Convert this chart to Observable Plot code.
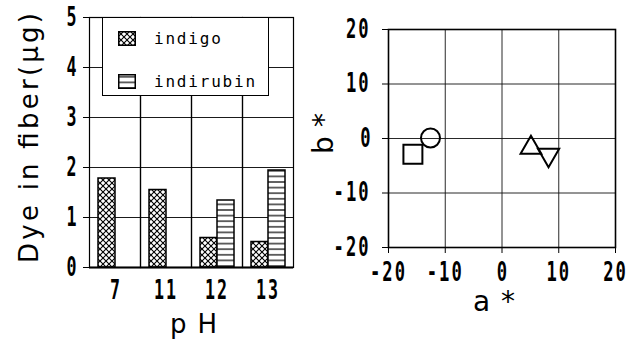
<!DOCTYPE html>
<html><head><meta charset="utf-8">
<script src="https://cdn.jsdelivr.net/npm/d3@7"></script>
<script src="https://cdn.jsdelivr.net/npm/@observablehq/plot@0.6"></script>
<style>
html,body{margin:0;padding:0;background:#fff;}
#wrap{position:relative;width:640px;height:342px;overflow:hidden;background:#fff;}
#left{position:absolute;left:0;top:0;}
#right{position:absolute;left:300px;top:0;}
#legend{position:absolute;left:102px;top:17px;width:165px;height:77px;background:#fff;border:1.5px solid #000;font-family:"DejaVu Sans Mono",monospace;font-size:16px;letter-spacing:1.8px;color:#000;}
.item{position:absolute;left:15px;display:flex;align-items:center;}
.item svg{margin-right:18px;display:block;}
</style></head><body>
<svg width="0" height="0" style="position:absolute">
<defs>
<pattern id="xhatch" patternUnits="userSpaceOnUse" width="6" height="6">
<rect width="6" height="6" fill="#fff"/>
<path d="M-1,-1L7,7M7,-1L-1,7" stroke="#000" stroke-width="1.1"/>
</pattern>
<pattern id="hhatch" patternUnits="userSpaceOnUse" width="6" height="5.6">
<rect width="6" height="5.6" fill="#fff"/>
<path d="M-1,2.8H7" stroke="#000" stroke-width="1.2"/>
</pattern>
</defs></svg>
<div id="wrap"><div id="left"></div><div id="right"></div><div id="legend"></div></div>
<script>
// ---- data: left panel (bar chart) ----
const pHLabels = ["7", "11", "12", "13"];
const seriesNames = ["indigo", "indirubin"];
const indigoValues = [1.78, 1.55, 0.59, 0.51];
const indirubinValues = [null, null, 1.34, 1.94];
const dyeTicks = [0, 1, 2, 3, 4, 5];
const leftYLabel = "Dye in fiber(μg)";
const leftXLabel = "pH";

// ---- data: right panel (a*, b* scatter) ----
const aStar = [-15.7, -12.6, 5.1, 8.2];
const bStar = [-2.9, 0.1, -1.7, -3.0];
const markerShapes = ["square", "circle", "triangle", "triangleDown"];
const abTicks = [-20, -10, 0, 10, 20];
const rightXLabel = "a*";
const rightYLabel = "b*";

// ---- build tables ----
const rows = [];
pHLabels.forEach((p, i) => {
  if (indigoValues[i] != null) rows.push({pH: p, series: seriesNames[0], value: indigoValues[i]});
  if (indirubinValues[i] != null) rows.push({pH: p, series: seriesNames[1], value: indirubinValues[i]});
});
const points = aStar.map((a, i) => ({a, b: bStar[i], shape: markerShapes[i]}));

const triangleDown = {
  draw(context, size) {
    const y = Math.sqrt(size / (Math.sqrt(3) * 3)), s3 = Math.sqrt(3);
    context.moveTo(0, 2 * y);
    context.lineTo(s3 * y, -y);
    context.lineTo(-s3 * y, -y);
    context.closePath();
  }
};
const symbolFor = {square: "square", circle: "circle", triangle: "triangle", triangleDown};
const radiusFor = {square: 10.7, circle: 9.5, triangle: 7.7, triangleDown: 7.9};

function styleTicks(svg, sx) {
  svg.querySelectorAll("text").forEach(t => {
    t.style.fontFamily = "'DejaVu Sans Mono', monospace";
    t.style.fontSize = "26px";
    t.style.fontWeight = "bold";
    if (t.textContent.length > 1) t.style.letterSpacing = "3px";
    const tr = t.getAttribute("transform") || "";
    t.setAttribute("transform", (tr + ` scale(${sx},1)`).trim());
  });
}
function addLabel(svg, text, transform, length, size) {
  d3.select(svg).append("text")
    .attr("transform", transform)
    .attr("text-anchor", "start")
    .attr("textLength", length).attr("lengthAdjust", "spacing")
    .style("font-family", "'DejaVu Sans', sans-serif").style("font-size", size + "px")
    .attr("fill", "#000")
    .text(text);
}

// ---- left plot ----
const left = Plot.plot({
  width: 300, height: 342,
  marginLeft: 88, marginRight: 7, marginTop: 17, marginBottom: 75,
  style: {background: "none", color: "#000"},
  facet: {data: rows, x: "pH"},
  fx: {domain: pHLabels, padding: 0, axis: "bottom", tickSize: 0, tickPadding: 13, label: null},
  x: {domain: seriesNames, paddingInner: 0, paddingOuter: 0.42, axis: null},
  y: {domain: [0, 5], ticks: dyeTicks, tickSize: 6, tickPadding: 7, tickFormat: d => String(d), label: null},
  color: {domain: seriesNames, range: ["url(#xhatch)", "url(#hhatch)"]},
  marks: [
    Plot.ruleY(dyeTicks.slice(1, -1), {stroke: "#000", strokeWidth: 0.9}),
    Plot.barY(rows, {x: "series", y: "value", fill: "series", stroke: "#000", strokeWidth: 1.5}),
    Plot.frame({stroke: "#000", strokeWidth: 1.2}),
    Plot.ruleY([0], {stroke: "#000", strokeWidth: 1.8})
  ]
});
styleTicks(left, 0.64);
addLabel(left, leftYLabel, "translate(38,263) rotate(-90)", 250, 26);
addLabel(left, leftXLabel, "translate(170,333)", 47, 26);
document.getElementById("left").append(left);

// legend
const legend = d3.select("#legend");
const swTop = [10.5, 53.5];
seriesNames.forEach((s, i) => {
  const item = legend.append("div").attr("class", "item").style("top", swTop[i] + "px");
  const sv = item.append("svg").attr("width", 18).attr("height", 15);
  sv.append("rect").attr("x", 0.75).attr("y", 0.75).attr("width", 16.5).attr("height", 13.5)
    .attr("fill", i === 0 ? "url(#xhatch)" : "url(#hhatch)").attr("stroke", "#000").attr("stroke-width", 1.5);
  item.append("span").text(s);
});

// ---- right plot ----
const fmt = d => d < 0 ? "-" + (-d) : String(d);
const marksR = [
  Plot.ruleX(abTicks.slice(1, -1), {stroke: "#111", strokeWidth: 0.9}),
  Plot.ruleY(abTicks.slice(1, -1), {stroke: "#111", strokeWidth: 0.9}),
  Plot.frame({stroke: "#000", strokeWidth: 1.6})
];
points.forEach(p => {
  marksR.push(Plot.dot([p], {x: "a", y: "b", symbol: symbolFor[p.shape], r: radiusFor[p.shape],
    stroke: "#000", strokeWidth: 2, fill: "none"}));
});
const right = Plot.plot({
  width: 340, height: 342,
  marginLeft: 88, marginRight: 25, marginTop: 29, marginBottom: 95,
  style: {background: "none", color: "#000"},
  x: {domain: [-20, 20], ticks: abTicks, tickSize: 6, tickPadding: 9, tickFormat: fmt, label: null},
  y: {domain: [-20, 20], ticks: abTicks, tickSize: 6, tickPadding: 12, tickFormat: fmt, label: null},
  marks: marksR
});
styleTicks(right, 0.66);
addLabel(right, rightXLabel, "translate(173,311)", 42, 28);
addLabel(right, rightYLabel, "translate(33,154) rotate(-90)", 41, 28);
document.getElementById("right").append(right);
</script>
</body></html>
